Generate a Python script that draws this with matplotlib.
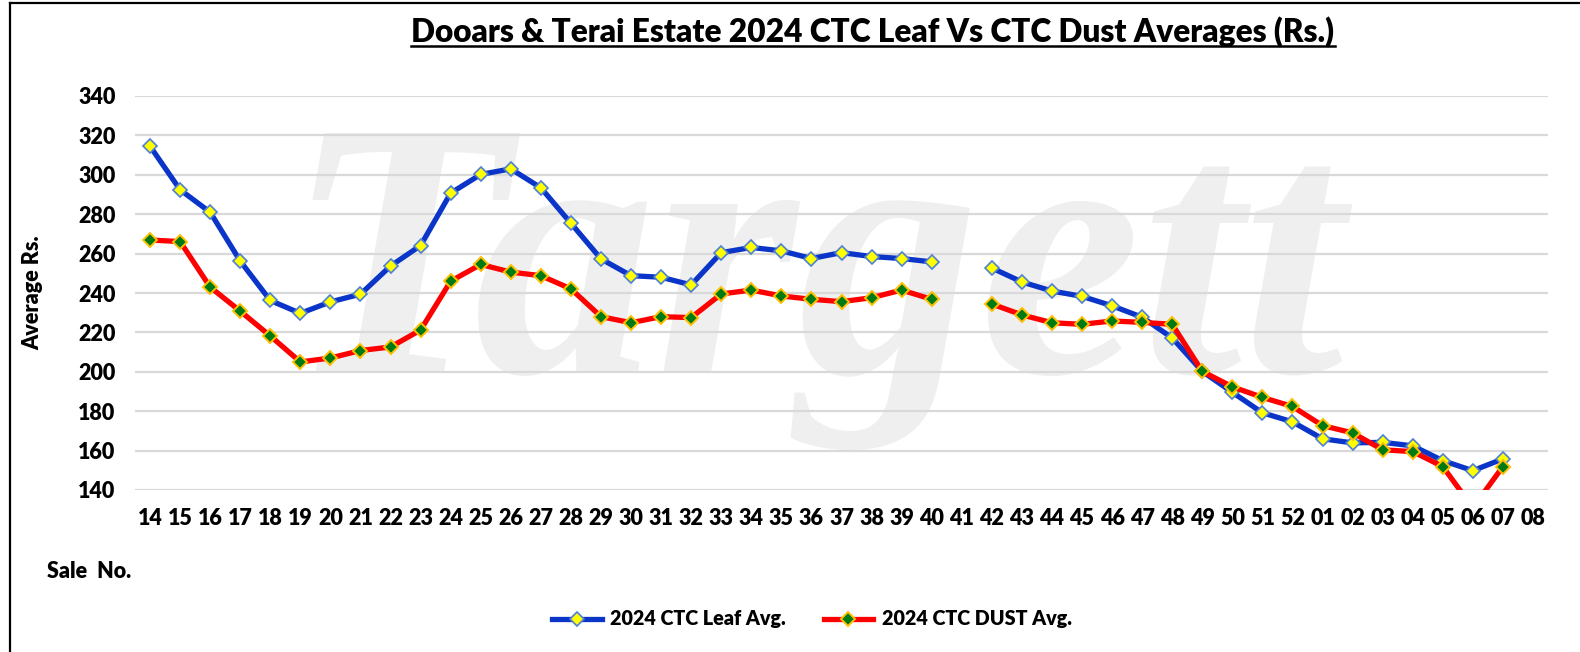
import matplotlib
matplotlib.use("Agg")
import matplotlib.pyplot as plt
import numpy as np

plt.rcParams['font.family'] = ['Lato', 'DejaVu Sans']

# sale numbers (41 had no data)
sales = ['14', '15', '16', '17', '18', '19', '20', '21', '22', '23', '24', '25', '26',
         '27', '28', '29', '30', '31', '32', '33', '34', '35', '36', '37', '38', '39',
         '40', '41', '42', '43', '44', '45', '46', '47', '48', '49', '50', '51', '52',
         '01', '02', '03', '04', '05', '06', '07', '08']

leaf = [314.5, 292.4, 281.0, 256.2, 236.2, 229.7, 235.5, 239.4, 253.7, 264.1, 290.7,
        300.2, 303.0, 293.4, 275.4, 257.3, 248.8, 248.0, 244.1, 260.5, 263.1, 261.4,
        257.5, 260.5, 258.5, 257.5, 255.8, np.nan, 252.7, 245.6, 241.0, 238.3, 233.5,
        227.7, 217.2, 200.2, 189.6, 179.2, 174.6, 166.0, 163.9, 164.2, 162.4, 154.9,
        149.8, 155.8, np.nan]

dust = [266.9, 266.1, 243.0, 230.8, 218.2, 205.0, 207.0, 210.8, 212.6, 221.2, 246.0,
        254.5, 250.6, 248.8, 242.1, 228.0, 224.9, 228.0, 227.5, 239.5, 241.5, 238.5,
        236.8, 235.6, 237.6, 241.5, 236.8, np.nan, 234.4, 228.9, 224.9, 224.1, 225.8,
        225.1, 224.1, 200.2, 192.4, 187.0, 182.4, 172.7, 169.0, 160.4, 159.5, 151.9,
        131.0, 151.9, np.nan]

W, H = 1580, 652
fig = plt.figure(figsize=(W / 100, H / 100), dpi=100)

# faint watermark behind the plot
fig.text(815 / W, 1 - 285 / H, 'Targett', fontsize=262, family='Liberation Serif',
         weight='bold', style='italic', color='#efefef', ha='center', va='center',
         zorder=-5)

ax = fig.add_axes([135 / W, 1 - 490 / H, (1548 - 135) / W, (490 - 96) / H])
ax.set_facecolor('none')

x = np.arange(len(sales))
ax.plot(x, leaf, color='#0a35c8', lw=3.8, marker='D', ms=7.5, mfc='#ffff00',
        mec='#4f7fd6', mew=1.2, label='2024 CTC Leaf Avg.', zorder=3)
ax.plot(x, dust, color='#ff0000', lw=3.8, marker='D', ms=7.5, mfc='#007a12',
        mec='#ffc000', mew=1.4, label='2024 CTC DUST Avg.', zorder=4)

ax.set_xlim(-0.5, len(sales) - 0.5)
ax.set_ylim(140, 340)
ax.set_yticks(range(140, 341, 20))
ax.set_xticks(x)
ax.set_xticklabels(sales)
ax.grid(axis='y', color='#d9d9d9', lw=1.6)
ax.set_axisbelow(True)
for s in ax.spines.values():
    s.set_visible(False)
ax.tick_params(axis='both', length=0, labelsize=15.5)
ax.tick_params(axis='y', pad=14)
ax.tick_params(axis='x', pad=13)
for lab in ax.get_xticklabels() + ax.get_yticklabels():
    lab.set_fontweight('heavy')

fig.text(33 / W, 1 - 293 / H, 'Average Rs.', rotation=90, fontsize=15.5,
         weight='heavy', ha='center', va='center')
fig.text(47 / W, 1 - 571 / H, 'Sale  No.', fontsize=15.5, weight='heavy',
         ha='left', va='center')

title = fig.text(873 / W, 1 - 32 / H,
                 'Dooars & Terai Estate 2024 CTC Leaf Vs CTC Dust Averages (Rs.)',
                 fontsize=22.8, weight='heavy', ha='center', va='center')
# underline the title
fig.canvas.draw()
bb = title.get_window_extent().transformed(fig.transFigure.inverted())
fig.add_artist(plt.Line2D([bb.x0, bb.x1], [1 - 46 / H, 1 - 46 / H], color='black',
                          lw=1.8, transform=fig.transFigure))

fig.legend(loc='center', bbox_to_anchor=(812 / W, 1 - 619 / H), ncol=2,
           frameon=False, handlelength=2.5, handletextpad=0.45,
           columnspacing=1.9, prop={'weight': 'heavy', 'size': 14.2})

# chart border (left and top)
fig.add_artist(plt.Line2D([10 / W, 10 / W], [0, 1 - 3 / H], color='black', lw=1.6,
                          transform=fig.transFigure))
fig.add_artist(plt.Line2D([10 / W, 1], [1 - 3 / H, 1 - 3 / H], color='black', lw=1.6,
                          transform=fig.transFigure))

fig.savefig('out.png', dpi=100)
